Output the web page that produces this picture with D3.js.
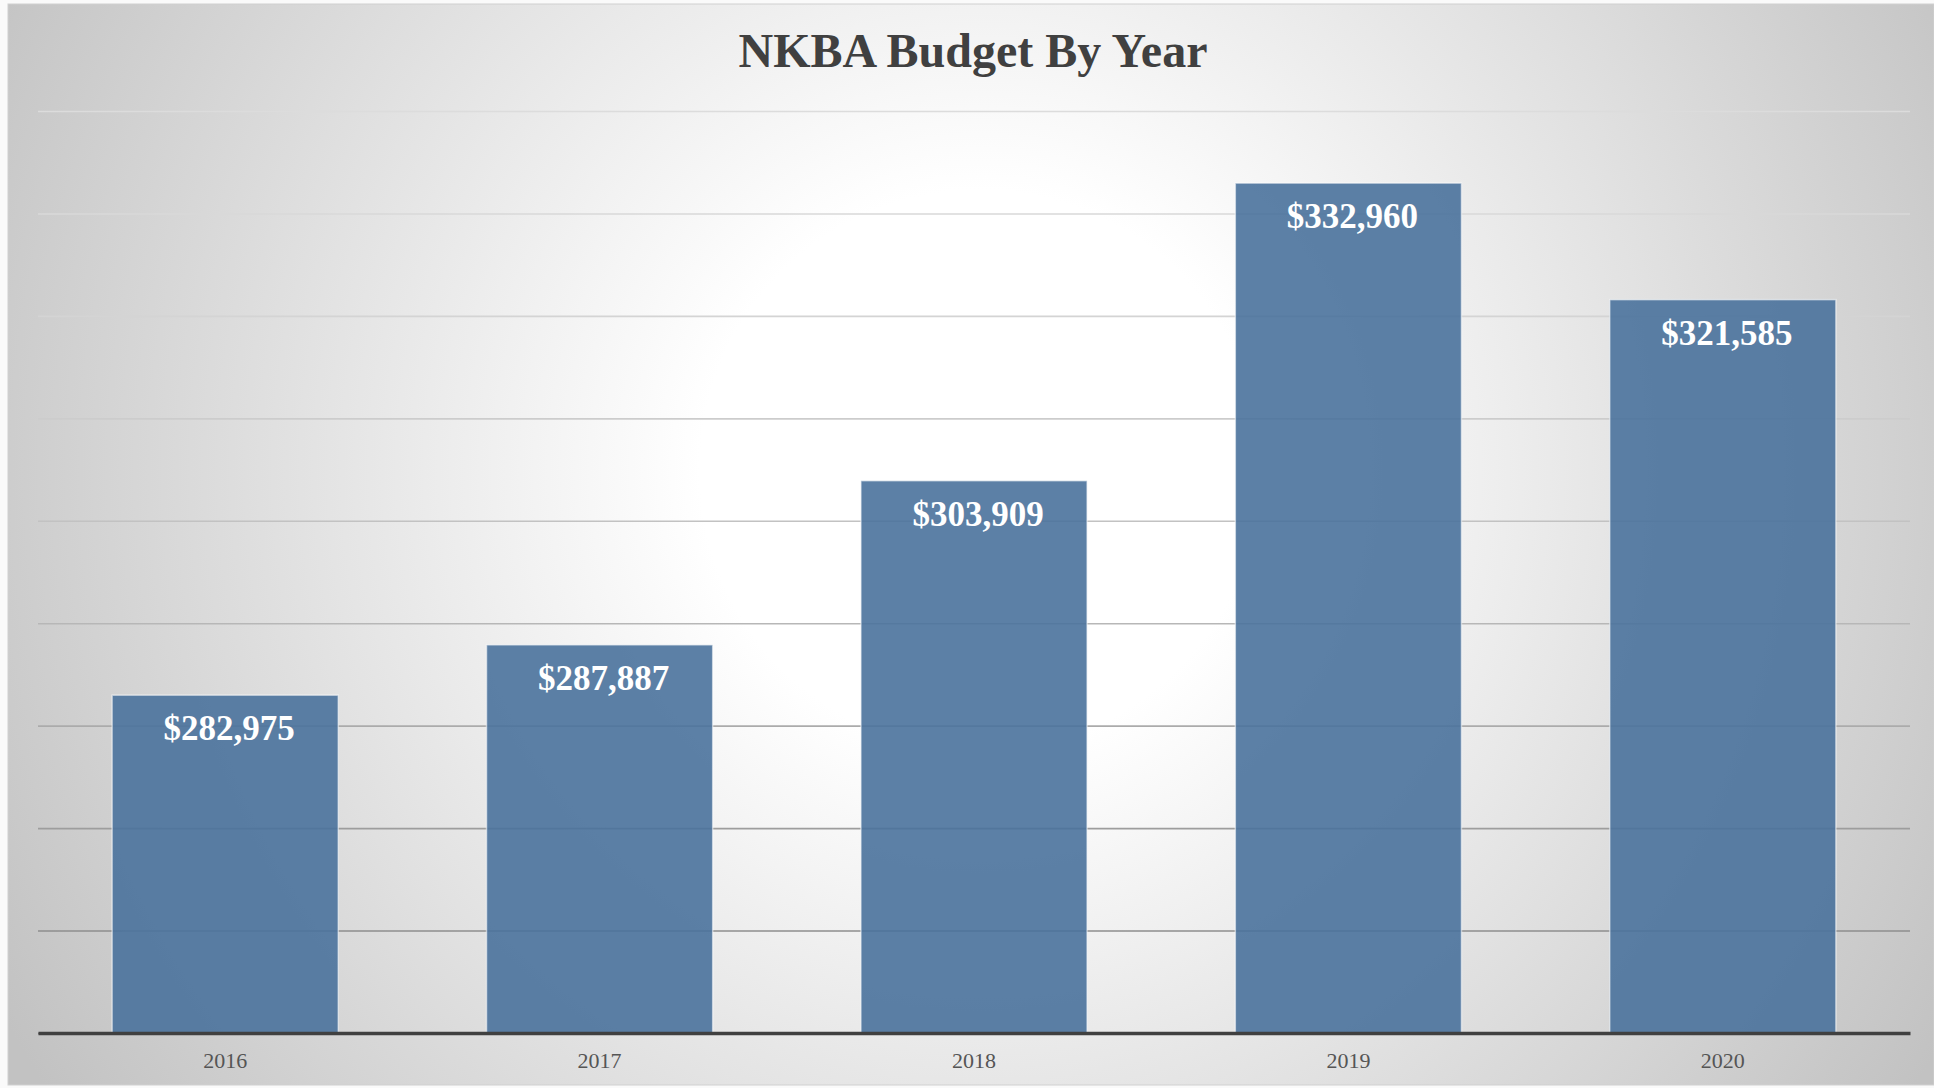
<!DOCTYPE html>
<html>
<head>
<meta charset="utf-8">
<script src="https://cdn.jsdelivr.net/npm/d3@7"></script>
<style>
  html, body { margin: 0; padding: 0; background: #fafafa; }
  svg { display: block; }
  .title { font-family: "Liberation Serif", serif; font-weight: bold; fill: #404040; }
  .value { font-family: "Liberation Serif", serif; font-weight: bold; fill: #ffffff; }
  .year { font-family: "Liberation Serif", serif; fill: #555555; }
</style>
</head>
<body>
<svg width="1934" height="1088"></svg>
<script>
// Budget per year
const years = ["2016", "2017", "2018", "2019", "2020"];
const budgets = [282975, 287887, 303909, 332960, 321585];
// Hidden value axis: gridline values
const gridValues = [250000, 260000, 270000, 280000, 290000, 300000, 310000, 320000, 330000, 340000];

const svg = d3.select("svg");
const W = +svg.attr("width");
const H = +svg.attr("height");

// Plot area
const plotLeft = 38, plotRight = 1910, plotTop = 111, plotBottom = 1033;

const defs = svg.append("defs");

// Background: soft radial light in the middle, gray toward corners
const bg = defs.append("radialGradient")
  .attr("id", "bg")
  .attr("gradientUnits", "userSpaceOnUse")
  .attr("cx", 980).attr("cy", 470).attr("r", 1120);
bg.append("stop").attr("offset", 0).attr("stop-color", "#ffffff");
bg.append("stop").attr("offset", 0.25).attr("stop-color", "#ffffff");
bg.append("stop").attr("offset", 1).attr("stop-color", "#c2c2c2");

svg.append("rect")
  .attr("x", 8).attr("y", 4)
  .attr("width", W - 8).attr("height", 1081)
  .attr("fill", "url(#bg)")
  .attr("stroke", "#d0d0d0")
  .attr("stroke-width", 1);

// Scales
const x = d3.scaleBand()
  .domain(years)
  .range([plotLeft, plotRight])
  .paddingInner(0.396)
  .paddingOuter(0.198);

const y = d3.scaleLinear()
  .domain([250000, 340000])
  .range([plotBottom, plotTop]);

// Gridlines, lighter toward the top
const gridColor = d3.interpolateRgb("#dcdcdc", "#7e7e7e");
const grid = svg.append("g")
  .attr("transform", `translate(${plotLeft},0)`)
  .call(d3.axisLeft(y).tickValues(gridValues).tickSize(-(plotRight - plotLeft)).tickFormat(""));
grid.select(".domain").remove();
grid.selectAll(".tick line")
  .attr("stroke", (d) => gridColor(Math.pow((340000 - d) / 90000, 1.6)))
  .attr("stroke-width", 1.6);

// Bars
const data = years.map((yr, i) => ({ year: yr, value: budgets[i] }));

svg.append("g")
  .selectAll("rect")
  .data(data)
  .join("rect")
  .attr("x", (d) => x(d.year))
  .attr("y", (d) => y(d.value))
  .attr("width", x.bandwidth())
  .attr("height", (d) => y(250000) - y(d.value))
  .attr("fill", "#4a729c")
  .attr("fill-opacity", 0.9)
  .attr("stroke", "rgba(255,255,255,0.55)")
  .attr("stroke-width", 1.5);

// Value labels inside bar tops
svg.append("g")
  .selectAll("text")
  .data(data)
  .join("text")
  .attr("class", "value")
  .attr("x", (d) => x(d.year) + x.bandwidth() / 2 + 4)
  .attr("y", (d) => y(d.value) + 45)
  .attr("text-anchor", "middle")
  .attr("font-size", 35)
  .text((d) => "$" + d3.format(",")(d.value));

// Category axis with thick baseline
const xAxis = svg.append("g")
  .attr("transform", `translate(0,${plotBottom})`)
  .call(d3.axisBottom(x).tickSize(0).tickPadding(0));
xAxis.select(".domain")
  .attr("stroke", "#404040")
  .attr("stroke-width", 3.5);
xAxis.selectAll(".tick text")
  .attr("class", "year")
  .attr("font-size", 22)
  .attr("dy", 0)
  .attr("y", 35);

// Title
svg.append("text")
  .attr("class", "title")
  .attr("x", 973)
  .attr("y", 67)
  .attr("text-anchor", "middle")
  .attr("font-size", 48)
  .text("NKBA Budget By Year");
</script>
</body>
</html>
